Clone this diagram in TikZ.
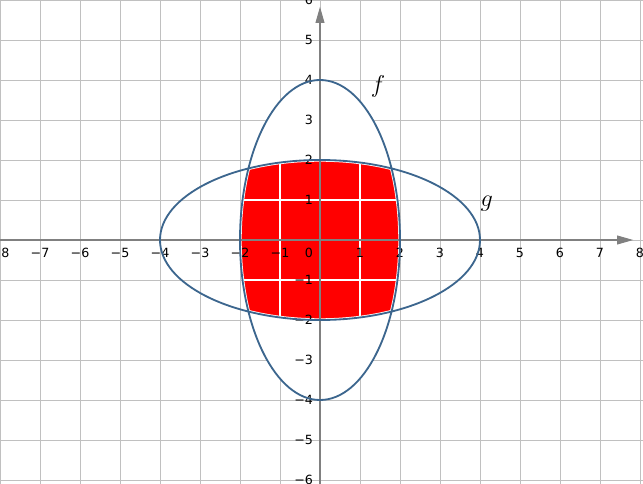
\documentclass[tikz,border=0pt]{standalone}
\usepackage{fontspec}
\setsansfont{DejaVu Sans}
\usepackage{tikz}
\usetikzlibrary{arrows.meta}
\definecolor{curveblue}{RGB}{60,102,142}
\definecolor{gridgray}{RGB}{192,192,192}
\definecolor{axisgray}{RGB}{128,128,128}
\tikzset{gridline/.style={gridgray,line width=0.7pt},
  axisline/.style={axisgray,line width=0.8pt,-{Triangle[length=4mm,width=2.2mm]}},
  curve/.style={curveblue,line width=1.3pt},
  ticklbl/.style={inner sep=0pt,font=\sffamily\fontsize{9}{10}\selectfont},
  curvelbl/.style={font=\fontsize{19}{22}\selectfont}}

\begin{document}
\begin{tikzpicture}
\useasboundingbox (-8,-6.1) rectangle (8.075,6);
\draw[gridline] (-8,-6.1) grid (8.075,6);
% overlap of the two curves
\begin{scope}
\clip (0,0) ellipse (2 and 4);
\fill[red] (0,0) ellipse (4 and 2);
\draw[white,line width=0.8pt] (-8,-6) grid (8,6);
\draw[white,line width=2.4pt] (0,0) ellipse (2 and 4) (0,0) ellipse (4 and 2);
\end{scope}
\draw[axisline] (-8,0) -- (7.83,0);
\draw[axisline] (0,-6.1) -- (0,5.83);
\foreach \k in {1,...,8}{
  \node[ticklbl,anchor=north] at (\k,-0.2) {\k};
  \node[ticklbl,anchor=north] at (-\k,-0.2) {−\k};}
\foreach \k in {1,...,6}{
  \node[ticklbl,anchor=east] at (-0.17,\k) {\k};
  \node[ticklbl,anchor=east] at (-0.17,-\k) {−\k};}
\node[ticklbl,anchor=north east] at (-0.17,-0.2) {0};
\draw[curve] (0,0) ellipse (2 and 4);
\draw[curve] (0,0) ellipse (4 and 2);
\node[curvelbl] (flbl) at (1.45,3.85) {$f$};
\node[curvelbl] (glbl) at (4.17,0.9) {$g$};
\end{tikzpicture}
\end{document}
